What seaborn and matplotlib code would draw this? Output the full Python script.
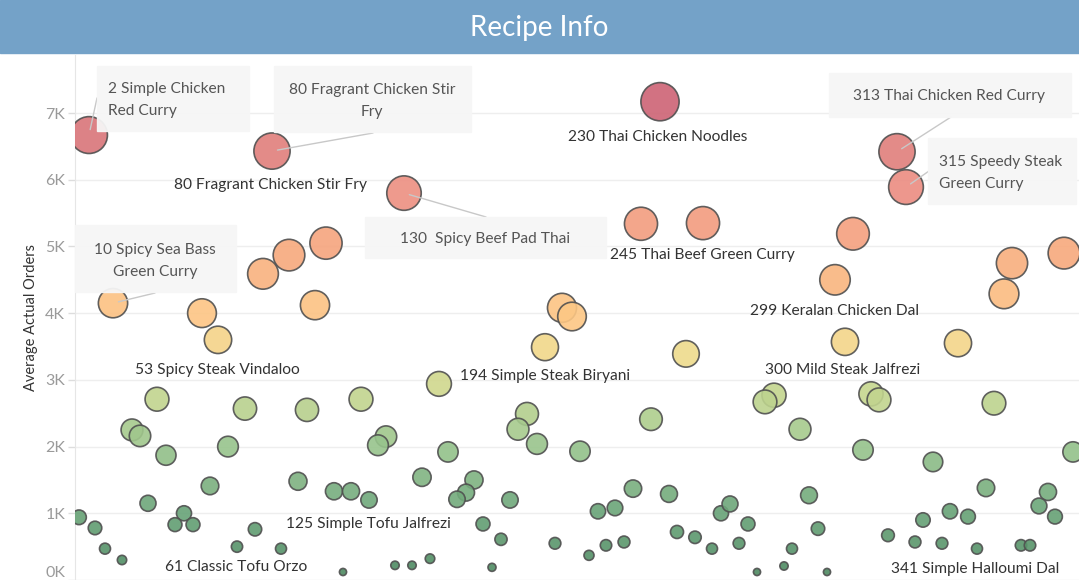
import matplotlib
matplotlib.use("Agg")
import matplotlib.pyplot as plt
import seaborn as sns
import pandas as pd
from matplotlib.colors import LinearSegmentedColormap
from matplotlib.patches import Rectangle

# recipe position along the (unlabelled) x axis and average actual orders
recipe_pos = [
    89, 272, 660, 404, 326, 289, 263, 113, 202, 315, 218, 641, 703, 562, 572,
    897, 906, 853, 835, 1012, 1064, 1004,
    157, 132, 140, 166, 245, 307, 361, 228, 210, 148, 298, 334, 351, 79, 95,
    184, 175, 193, 255, 105, 122, 237, 281, 343,
    545, 686, 439, 527, 518, 537, 651, 580, 386, 378, 448, 422, 474, 466, 457,
    510, 369, 633, 669, 615, 598, 721, 483, 501, 555, 677, 695, 712, 624, 606,
    589, 430, 395, 412, 492,
    845, 958, 774, 765, 871, 879, 994, 800, 863, 933, 1073, 809, 986, 1048,
    1039, 1055, 730, 748, 818, 950, 968, 923, 888, 739, 792, 915, 942, 977,
    1021, 1030, 757, 784, 827,
]
avg_orders = [
    6670, 6430, 7170, 5800, 5050, 4870, 4590, 4150, 4000, 4120, 3600, 5340, 5350, 4080, 3950,
    6420, 5890, 5190, 4500, 4750, 4900, 4290,
    2710, 2250, 2160, 1870, 2570, 2550, 2710, 2000, 1410, 1150, 1480, 1330, 1330, 940, 780,
    1000, 830, 830, 760, 470, 300, 500, 470, 120,
    3490, 3390, 2940, 2490, 2260, 2040, 2410, 1930, 2150, 2020, 1920, 1540, 1500, 1310, 1210,
    1200, 1200, 1370, 1290, 1080, 1030, 1000, 840, 610, 550, 720, 640, 470, 570, 520,
    370, 320, 220, 220, 190,
    3570, 3550, 2770, 2670, 2790, 2700, 2650, 2260, 1950, 1770, 1920, 1270, 1380, 1320,
    1110, 950, 1140, 840, 770, 1030, 950, 900, 670, 550, 470, 570, 550, 470,
    520, 520, 120, 210, 120,
]

df = pd.DataFrame({"pos": recipe_pos, "orders": avg_orders})

W, H = 1079, 580
fig = plt.figure(figsize=(W / 100, H / 100), dpi=100)
sns.set_style("white")
plt.rcParams["font.family"] = ["Lato", "DejaVu Sans"]

def fx(x):
    return x / W

def fy(y):
    return 1 - y / H

# title bar
fig.patches.append(Rectangle((0, fy(53)), 1, 53 / H, transform=fig.transFigure,
                             color="#74a2c8", zorder=0))
fig.text(0.5, fy(28), "Recipe Info", ha="center", va="center", color="white",
         fontsize=20)

ax = fig.add_axes([fx(75), 0, fx(W - 75), (580 - 55) / H])

cmap = LinearSegmentedColormap.from_list("rgg", [
    (0.0, "#4a875f"), (0.14, "#68a377"), (0.28, "#98c48c"), (0.38, "#c2d58e"),
    (0.47, "#eedb8c"), (0.55, "#fdc784"), (0.68, "#f7a97c"), (0.8, "#ee9082"),
    (0.9, "#df7d7b"), (1.0, "#cc6274"),
])

sns.scatterplot(data=df, x="pos", y="orders", hue="orders", palette=cmap,
                hue_norm=(0, 7200), size="orders", sizes=(14, 760),
                size_norm=(0, 7200), edgecolor="#505050", linewidth=1.2,
                alpha=0.9, legend=False, ax=ax, zorder=3)

ax.set_xlim(75, W)
ax.set_ylim(0, 7870)
ax.set_xticks([])
ax.set_yticks(range(0, 8000, 1000))
ax.set_yticklabels([f"{v // 1000}K" for v in range(0, 8000, 1000)])
ax.get_yticklabels()[0].set_va("bottom")
ax.tick_params(axis="y", colors="#dddddd", labelcolor="#9a9a9a", labelsize=11.5,
               length=5, width=1, pad=2, left=True)
ax.grid(axis="y", color="#eeeeee", linewidth=1)
ax.set_axisbelow(True)
for s in ["top", "right", "bottom"]:
    ax.spines[s].set_visible(False)
ax.spines["left"].set_color("#e6e6e6")
ax.set_xlabel("")
ax.set_ylabel("Average Actual Orders", color="#333333", fontsize=10.5, labelpad=5)

# plain labels (figure pixel placement)
plain = [
    ("80 Fragrant Chicken Stir Fry", 271, 185),
    ("230 Thai Chicken Noodles", 658, 137),
    ("245 Thai Beef Green Curry", 702, 255),
    ("299 Keralan Chicken Dal", 835, 311),
    ("53 Spicy Steak Vindaloo", 217, 370),
    ("300 Mild Steak Jalfrezi", 843, 370),
    ("194 Simple Steak Biryani", 545, 376),
    ("125 Simple Tofu Jalfrezi", 368, 524),
    ("61 Classic Tofu Orzo", 236, 567),
    ("341 Simple Halloumi Dal", 975, 569),
]
for txt, x, y in plain:
    fig.text(fx(x), fy(y), txt, ha="center", va="center", color="#333333",
             fontsize=11.2, zorder=6)

# boxed callouts: text, point index, box (x0, y0, x1, y1), text anchor, ha, line end
boxed = [
    ("2 Simple Chicken\nRed Curry", 0, (97, 66, 249, 131), (108, 100), "left", (97, 98)),
    ("80 Fragrant Chicken Stir\nFry", 1, (274, 66, 471, 132), (372, 101), "center", (373, 133)),
    ("130  Spicy Beef Pad Thai", 3, (365, 217, 606, 258), (485, 239), "center", (486, 217)),
    ("313 Thai Chicken Red Curry", 15, (829, 73, 1071, 117), (949, 96), "center", (951, 117)),
    ("315 Speedy Steak\nGreen Curry", 16, (928, 138, 1076, 204), (939, 173), "left", (929, 171)),
    ("10 Spicy Sea Bass\nGreen Curry", 7, (75, 225, 236, 292), (155, 261), "center", (155, 293)),
]
for txt, i, (x0, y0, x1, y1), (tx, ty), ha, (lx, ly) in boxed:
    fig.patches.append(Rectangle((fx(x0), fy(y1)), (x1 - x0) / W, (y1 - y0) / H,
                                 transform=fig.transFigure, color="#f6f6f6",
                                 alpha=0.95, zorder=5))
    ax.annotate("", xy=(recipe_pos[i], avg_orders[i]), xycoords="data",
                xytext=(fx(lx), fy(ly)), textcoords="figure fraction",
                arrowprops=dict(arrowstyle="-", color="#c8c8c8", lw=1,
                                shrinkA=0, shrinkB=4), zorder=4)
    fig.text(fx(tx), fy(ty), txt, ha=ha, va="center", color="#555555",
             fontsize=11.2, linespacing=1.8, zorder=6, multialignment=ha)

fig.savefig("out.png", dpi=100)
